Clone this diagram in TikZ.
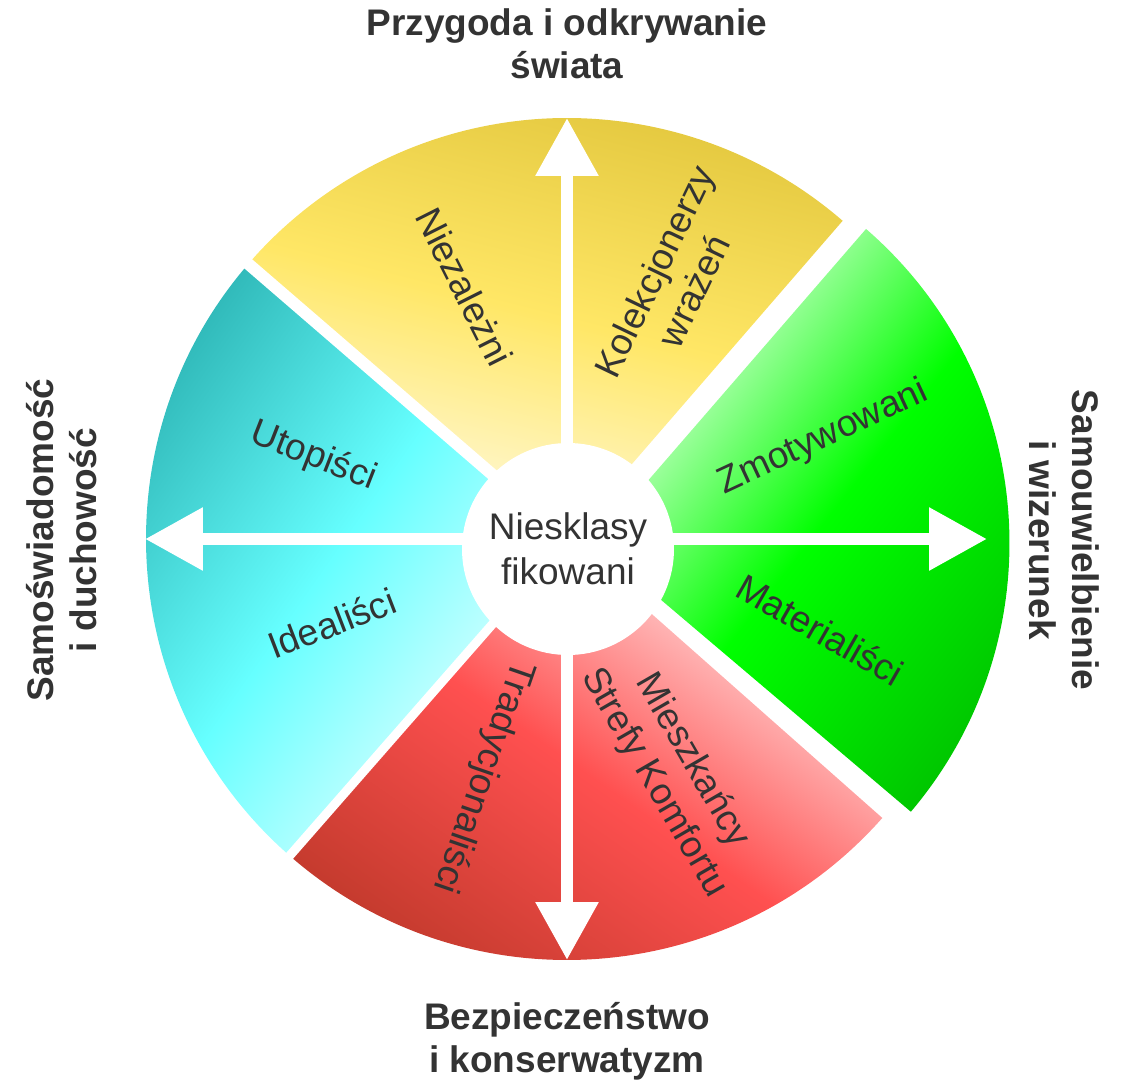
\documentclass[tikz,border=0pt]{standalone}
\usepackage{fontspec}
\setmainfont{Liberation Sans}
\usetikzlibrary{arrows.meta}
\definecolor{ink}{HTML}{333333}
\definecolor{yelDark}{HTML}{E2C63C}
\definecolor{yelMid}{HTML}{FFE766}
\definecolor{yelPale}{HTML}{FFFBE8}
\definecolor{grnDark}{HTML}{00C400}
\definecolor{grnMid}{HTML}{00FF00}
\definecolor{grnPale}{HTML}{F2FFF2}
\definecolor{redDark}{HTML}{C0392B}
\definecolor{redMid}{HTML}{FF5050}
\definecolor{redPale}{HTML}{FFEAEA}
\definecolor{cyaDark}{HTML}{2DB5B5}
\definecolor{cyaMid}{HTML}{66FFFF}
\definecolor{cyaPale}{HTML}{EEFFFF}
\begin{document}
\begin{tikzpicture}[x=1pt,y=1pt,
  lbl/.style={text=ink,font=\fontsize{37}{44}\selectfont,align=center,inner sep=0pt},
  sidelbl/.style={lbl,font=\fontsize{37}{43}\selectfont\bfseries},
  gapline/.style={white,line width=#1},
  bigarrow/.style={white,line width=12.5pt,-{Triangle[length=58pt,width=60pt]}}]
\useasboundingbox (-567,-546) rectangle (562,539);

% four quarters
\shade[top color=yelDark,bottom color=yelPale,middle color=yelMid,shading angle=-14]
  (0,0) -- (49.1:421) arc [start angle=49.1,end angle=139.2,radius=421] -- cycle;
\shade[top color=cyaDark,bottom color=cyaPale,middle color=cyaMid,shading angle=55]
  (0,0) -- (139.2:421) arc [start angle=139.2,end angle=228.8,radius=421] -- cycle;
\shade[top color=redDark,bottom color=redPale,middle color=redMid,shading angle=145]
  (0,0) -- (228.8:421) arc [start angle=228.8,end angle=318.5,radius=421] -- cycle;
\shade[top color=grnDark,bottom color=grnPale,middle color=grnMid,shading angle=-128]
  (27,-4) -- ++(-40.3:415.5) arc [start angle=-40.3,end angle=49.1,radius=415.5] -- cycle;

\draw[gapline=12pt] (0,0) -- (139.2:440);
\draw[gapline=9pt] (0,0) -- (228.8:440);

% arrows
\coordinate (hub) at (0,0);
\coordinate (tipN) at (0,421);
\coordinate (tipE) at (420,0);
\coordinate (tipS) at (0,-421);
\coordinate (tipW) at (-422,0);
\draw[bigarrow] (hub) -- (tipN);
\draw[bigarrow] (hub) -- (tipE);
\draw[bigarrow] (hub) -- (tipS);
\draw[bigarrow] (hub) -- (tipW);

\node[lbl,circle,fill=white,minimum size=212pt,font=\fontsize{37}{45}\selectfont] (core) at (1,-10) {Niesklasy\\fikowani};

% groups
\node[lbl,rotate=-63.3] (indep) at (-102.7,252.3) {Niezależni};
\node[lbl,rotate=64.3] (collect) at (107,258) {Kolekcjonerzy\\wrażeń};
\node[lbl,rotate=24.9] (motiv) at (256.3,100.9) {Zmotywowani};
\node[lbl,rotate=-29.8] (mater) at (253,-90.5) {Materialiści};
\node[lbl,rotate=-60] (comfort) at (106,-232.7) {Mieszkańcy\\Strefy Komfortu};
\node[lbl,rotate=-109.1] (trad) at (-84.2,-237.7) {Tradycjonaliści};
\node[lbl,rotate=-21.4] (utop) at (-253.7,82.3) {Utopiści};
\node[lbl,rotate=21] (ideal) at (-235.3,-84.1) {Idealiści};

% axes
\node[sidelbl] (adv) at (0,495) {Przygoda i odkrywanie\\świata};
\node[sidelbl,rotate=-90] (image) at (497,-1) {Samouwielbienie\\i wizerunek};
\node[sidelbl] (safe) at (0,-502) {Bezpieczeństwo\\i konserwatyzm};
\node[sidelbl,rotate=90] (spirit) at (-505,-1) {Samoświadomość\\i duchowość};
\end{tikzpicture}
\end{document}
